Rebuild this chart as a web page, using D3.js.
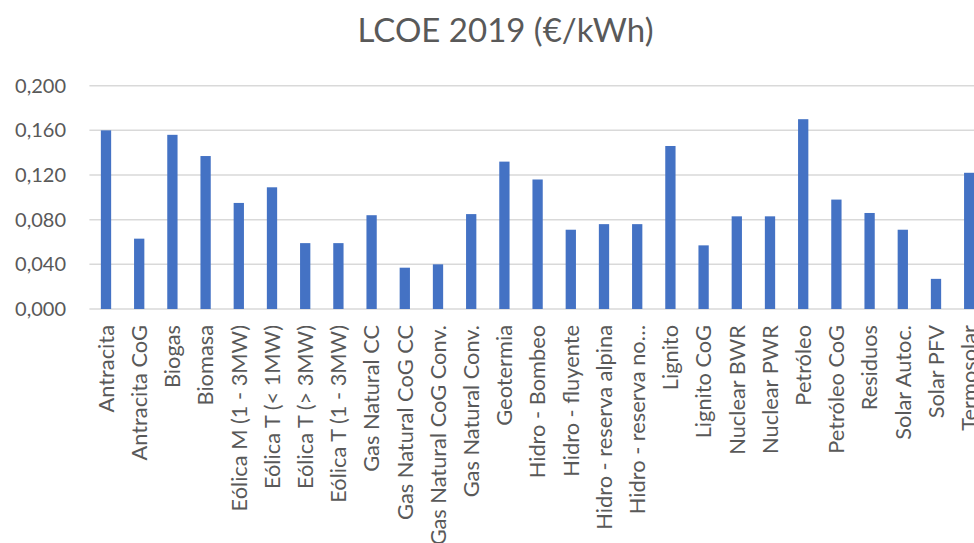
<!DOCTYPE html>
<html>
<head>
<meta charset="utf-8">
<script src="https://cdn.jsdelivr.net/npm/d3@7"></script>
<style>
  html, body { margin: 0; padding: 0; background: #fff; overflow: hidden; }
  svg { display: block; }
  text { font-family: Lato, "Open Sans", sans-serif; fill: #595959; }
</style>
</head>
<body>
<svg id="chart" width="974" height="543"></svg>
<script>
// LCOE by technology, 2019 (€/kWh)
const categories = [
  "Antracita", "Antracita CoG", "Biogas", "Biomasa",
  "Eólica M (1 - 3MW)", "Eólica T (< 1MW)", "Eólica T (> 3MW)", "Eólica T (1 - 3MW)",
  "Gas Natural CC", "Gas Natural CoG CC", "Gas Natural CoG Conv.", "Gas Natural Conv.",
  "Geotermia", "Hidro - Bombeo", "Hidro - fluyente", "Hidro - reserva alpina",
  "Hidro - reserva no…", "Lignito", "Lignito CoG", "Nuclear BWR", "Nuclear PWR",
  "Petróleo", "Petróleo CoG", "Residuos", "Solar Autoc.", "Solar PFV", "Termosolar"
];
const lcoe = [
  0.160, 0.063, 0.156, 0.137,
  0.095, 0.109, 0.059, 0.059,
  0.084, 0.037, 0.040, 0.085,
  0.132, 0.116, 0.071, 0.076,
  0.076, 0.146, 0.057, 0.083, 0.083,
  0.170, 0.098, 0.086, 0.071, 0.027, 0.122
];
const yTicks = [0, 0.04, 0.08, 0.12, 0.16, 0.2];
const title = "LCOE 2019 (€/kWh)";

const svg = d3.select("#chart");
const plotLeft = 89.4, band = 33.2;
const plotTop = 85.7, plotBottom = 309;
const plotRight = plotLeft + band * categories.length;

const x = d3.scaleBand()
  .domain(categories)
  .range([plotLeft, plotRight])
  .paddingInner(0.69)
  .paddingOuter(0.345);

const y = d3.scaleLinear().domain([0, 0.2]).range([plotBottom, plotTop]);
const fmt = v => d3.format(".3f")(v).replace(".", ",");

// horizontal gridlines
svg.append("g")
  .selectAll("line")
  .data(yTicks)
  .join("line")
  .attr("x1", plotLeft)
  .attr("x2", plotRight)
  .attr("y1", d => y(d))
  .attr("y2", d => y(d))
  .attr("stroke", "#d9d9d9")
  .attr("stroke-width", 1.5);

// y axis labels
const yAxis = d3.axisLeft(y).tickValues(yTicks).tickFormat(fmt).tickSize(0).tickPadding(0);
svg.append("g")
  .attr("transform", "translate(66,0)")
  .call(yAxis)
  .call(g => g.select(".domain").remove())
  .call(g => g.selectAll("text")
    .attr("font-size", 20)
    .attr("fill", "#595959")
    .attr("font-family", "Lato, 'Open Sans', sans-serif"));

// bars
svg.append("g")
  .selectAll("rect")
  .data(lcoe)
  .join("rect")
  .attr("x", (d, i) => x(categories[i]))
  .attr("width", x.bandwidth())
  .attr("y", d => y(d))
  .attr("height", d => y(0) - y(d))
  .attr("fill", "#4472c4");

// category labels, rotated
const xAxis = d3.axisBottom(x).tickSize(0).tickPadding(0);
svg.append("g")
  .attr("transform", `translate(0,${plotBottom})`)
  .call(xAxis)
  .call(g => g.select(".domain").remove())
  .call(g => g.selectAll("text")
    .attr("font-size", 21.8)
    .attr("fill", "#595959")
    .attr("font-family", "Lato, 'Open Sans', sans-serif")
    .attr("text-anchor", "end")
    .attr("transform", "rotate(-90)")
    .attr("x", -16)
    .attr("y", 0)
    .attr("dy", "0.36em"));

// title
svg.append("text")
  .attr("x", 505.5)
  .attr("y", 42)
  .attr("text-anchor", "middle")
  .attr("font-size", 33)
  .text(title);
</script>
</body>
</html>
